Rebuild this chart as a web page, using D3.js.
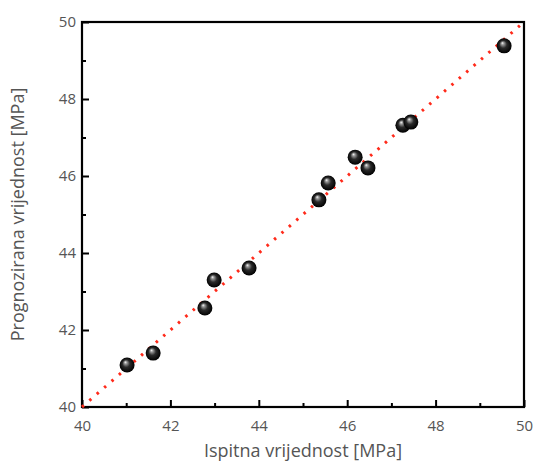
<!doctype html>
<html>
<head>
<meta charset="utf-8">
<script src="https://cdn.jsdelivr.net/npm/d3@7"></script>
<style>
  body { margin: 0; background: #fff; }
  text { font-family: "Open Sans", sans-serif; fill: #555; }
</style>
</head>
<body>
<script>
// measured (Ispitna) vs predicted (Prognozirana) values, MPa
const ispitna = [41.02, 41.61, 42.78, 42.99, 43.78, 45.36, 45.57, 46.18, 46.47, 47.26, 47.44, 49.55]
const prognoza = [41.09, 41.40, 42.57, 43.30, 43.61, 45.38, 45.82, 46.49, 46.21, 47.32, 47.40, 49.38]
const majorTicks = [40, 42, 44, 46, 48, 50]
const minorTicks = [41, 43, 45, 47, 49]
const fitLine = [40, 50]

const w = 535
const h = 462
const pLeft = 82, pRight = 524, pTop = 22, pBottom = 407

const svg = d3.select('body')
    .append('svg')
    .attr('width', w)
    .attr('height', h)

const x = d3.scaleLinear().domain([40, 50]).range([pLeft, pRight])
const y = d3.scaleLinear().domain([40, 50]).range([pBottom, pTop])

// sphere look for the points
const grad = svg.append('defs').append('radialGradient')
    .attr('id', 'ball')
    .attr('cx', '0.5').attr('cy', '0.5').attr('r', '0.5')
    .attr('fx', '0.38').attr('fy', '0.3')
grad.append('stop').attr('offset', '0').attr('stop-color', '#ffffff')
grad.append('stop').attr('offset', '0.18').attr('stop-color', '#9a9a9a')
grad.append('stop').attr('offset', '0.5').attr('stop-color', '#2a2a2a')
grad.append('stop').attr('offset', '1').attr('stop-color', '#000000')

// axes, ticks inward
svg.append('g').attr('transform', `translate(0,${pBottom})`)
    .call(d3.axisBottom(x).tickValues(majorTicks).tickSize(-7).tickPadding(13).tickFormat(d3.format('d')))
svg.append('g').attr('transform', `translate(0,${pBottom})`)
    .call(d3.axisBottom(x).tickValues(minorTicks).tickSize(-4).tickFormat(''))
svg.append('g').attr('transform', `translate(${pLeft},0)`)
    .call(d3.axisLeft(y).tickValues(majorTicks).tickSize(-7).tickPadding(6).tickFormat(d3.format('d')))
svg.append('g').attr('transform', `translate(${pLeft},0)`)
    .call(d3.axisLeft(y).tickValues(minorTicks).tickSize(-4).tickFormat(''))

svg.selectAll('.domain').remove()
svg.selectAll('.tick line').attr('stroke', '#000').attr('stroke-width', 2)
svg.selectAll('.tick text').attr('font-size', '15px').style('fill', '#555')

// frame
svg.append('rect')
    .attr('x', pLeft).attr('y', pTop)
    .attr('width', pRight - pLeft).attr('height', pBottom - pTop)
    .attr('fill', 'none')
    .attr('stroke', '#000')
    .attr('stroke-width', 2.2)

// red dotted y = x line
svg.append('line')
    .attr('x1', x(fitLine[0])).attr('y1', y(fitLine[0]))
    .attr('x2', x(fitLine[1])).attr('y2', y(fitLine[1]))
    .attr('stroke', '#ff2a1a')
    .attr('stroke-width', 3)
    .attr('stroke-dasharray', '2.5,7.3')

svg.selectAll('circle.pt')
    .data(ispitna)
    .enter()
    .append('circle')
    .attr('class', 'pt')
    .attr('cx', d => x(d))
    .attr('cy', (d, i) => y(prognoza[i]))
    .attr('r', 7.5)
    .attr('fill', 'url(#ball)')

svg.append('text')
    .attr('x', (pLeft + pRight) / 2)
    .attr('y', 457)
    .attr('text-anchor', 'middle')
    .attr('font-size', '18px')
    .text('Ispitna vrijednost [MPa]')

svg.append('text')
    .attr('transform', `translate(24,${(pTop + pBottom) / 2}) rotate(-90)`)
    .attr('text-anchor', 'middle')
    .attr('font-size', '18px')
    .text('Prognozirana vrijednost [MPa]')
</script>
</body>
</html>
